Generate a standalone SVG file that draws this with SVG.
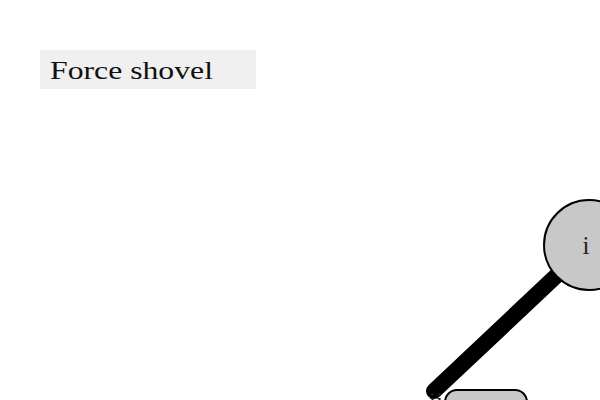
<svg xmlns="http://www.w3.org/2000/svg" width="600" height="400" viewBox="0 0 600 400">
<style>
.node{fill:#c8c8c8;stroke:#000;stroke-width:2}
.lbl{font-family:"Liberation Serif","DejaVu Serif",serif;font-size:25px;fill:#222}
</style>
<rect x="0" y="0" width="600" height="400" fill="#fff"/>
<g id="title">
<rect x="40" y="50" width="216" height="39" fill="#f0f0f0"/>
<text x="50" y="79" textLength="163" lengthAdjust="spacingAndGlyphs" style="font-family:'Liberation Serif','DejaVu Serif',serif;font-size:26px;fill:#111">Force shovel</text>
</g>
<g id="connectors">
<line x1="589" y1="245" x2="434" y2="391" stroke="#000" stroke-width="16" stroke-linecap="round"/>
</g>
<g id="node-i">
<circle class="node" cx="589" cy="245" r="45"/>
<text class="lbl" x="586" y="254" text-anchor="middle">i</text>
</g>
<g id="node-ii">
<rect class="node" x="445" y="390" width="82" height="40" rx="12"/>
<text class="lbl" x="436" y="410" text-anchor="middle">ii</text>
</g>
</svg>
